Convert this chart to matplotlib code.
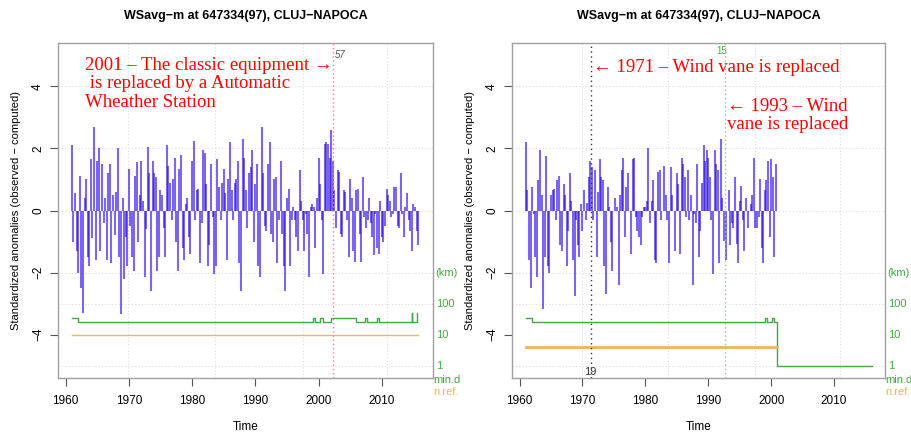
import matplotlib
matplotlib.use("Agg")
import matplotlib.pyplot as plt
import numpy as np

plt.rcParams['font.family'] = ['Liberation Sans', 'DejaVu Sans']

TITLE = "WSavg\u2212m at 647334(97), CLUJ\u2212NAPOCA"
START = 1961.0
STEP = 0.25  # four values per year

# standardized anomalies, left panel (1961-2015)
anom_left = [
    2.1, -1.0, 0.55, -1.3,    -2.0, 1.1, -2.5, -3.3,
    0.4, 1.0, -1.5, -1.8,     1.65, -0.9, 2.7, -1.6,
    1.6, 2.0, -1.3, 1.5,      -0.4, 0.4, -1.6, 1.2,
    1.5, -1.7, 0.5, -0.8,     0.6, 2.0, -1.5, -3.35,
    0.4, -2.2, -0.85, -1.8,   1.35, -0.5, -1.5, -1.95,
    1.1, 1.55, -1.0, 0.5,     1.6, 0.3, -2.15, -0.6,
    2.05, 1.2, -2.6, 1.6,     1.2, 1.07, -1.95, -1.5,
    0.65, 0.5, -0.55, -1.5,   2.1, 1.45, 0.9, -0.3,
    1.0, 1.7, -1.0, -1.95,    1.35, 1.8, -1.2, -1.6,
    0.2, 0.4, -0.85, -1.4,    1.6, 2.25, -0.3, 0.65,
    0.7, -1.7, -0.4, 1.95,    1.85, 0.85, -1.8, -1.1,
    1.5, -0.2, -2.05, -1.8,   1.65, 0.75, -0.3, 0.9,
    1.35, 0.55, -1.6, 1.0,    2.2, 0.65, -0.3, 0.9,
    1.0, 1.6, -1.7, -2.6,     2.3, 1.7, 0.65, -0.55,
    1.2, 1.4, 1.95, -1.0,     0.85, 1.5, -1.8, -2.15,
    2.7, 1.2, -0.5, -0.65,    1.5, 2.2, -0.75, -1.0,
    1.0, 1.07, -1.7, -0.3,    1.6, -0.75, -1.8, -2.6,
    0.4, 0.7, -1.8, -0.3,     0.1, -0.3, -0.85, -1.3,
    1.3, 0.3, -0.3, -1.3,     -0.1, -0.75, -2.15, 0.1,
    0.2, 0.1, -1.2, 0.4,      1.7, 0.85, -0.3, -2.05,
    2.15, 2.2, 2.15, 1.7,     2.6, 1.6, 0.65, -0.55,
    1.3, 1.25, -0.75, -0.85,  0.65, 0.6, -0.3, -1.5,
    1.0, 0.4, -1.3, -1.65,    0.65, 0.7, -0.75, -1.65,
    1.07, -0.2, -0.55, -0.3,  0.4, -0.4, -0.85, -1.45,
    -0.1, -1.2, -1.4, 0.3,    -0.85, -1.0, -0.5, 0.7,
    0.5, 0.3, -0.2, -0.1,     0.75, 0.75, -0.5, -0.55,
    1.2, -0.1, -0.85, 0.1,    0.55, -0.3, -0.65, -1.3,
    0.2, 0.1, -0.65, -1.1,
]

# standardized anomalies, right panel (1961-2000)
anom_right = [
    2.2, 0.65, -1.6, -2.5,    0.75, -0.1, -1.5, -2.15,
    0.97, 1.95, 0.5, -3.17,   -1.5, 1.75, -1.8, -2.0,
    0.5, 0.65, 0.7, -0.3,     0.97, 1.1, -1.1, -1.3,
    0.85, 0.5, -1.8, -0.65,   1.2, 0.3, -1.6, -2.75,
    -0.3, -1.1, -1.5, 0.2,    -0.65, 0.65, -0.3, 0.25,
    1.07, 1.6, 1.4, -0.3,     1.3, -1.5, 0.6, 1.65,
    1.07, 0.97, -1.8, -2.7,   0.75, 0.1, -1.0, -1.95,
    0.0, 0.4, 0.1, -2.4,      0.5, 1.3, 1.7, -0.85,
    0.75, 1.2, 0.0, -1.4,     1.65, 1.7, -0.2, -0.65,
    -0.85, -1.1, -0.2, 0.1,   0.1, 0.3, 2.0, -0.4,
    0.3, 0.97, -1.6, -1.7,    1.25, 1.3, -0.3, 0.0,
    1.45, 0.5, -0.3, -1.7,    1.4, 0.5, 0.0, -1.3,
    1.2, 0.85, -1.4, 1.7,     1.5, 1.07, -0.2, 1.3,
    -0.3, 0.5, -2.4, -0.1,    -0.4, 1.5, -1.5, -0.65,
    0.9, 2.1, 1.6, 1.95,      1.7, 1.07, -0.3, -2.05,
    1.95, 1.5, 1.3, -1.7,     2.3, 0.4, -0.97, -1.6,
    0.0, 0.65, -1.1, -0.4,    -0.55, 1.07, -1.07, -1.7,
    0.3, 0.8, -0.3, -1.3,     0.4, -0.55, 0.0, 0.2,
    0.5, 1.7, -0.55, -0.55,   -0.2, 1.0, -1.2, -1.7,
    0.65, 0.97, 1.6, -0.85,   1.65, 1.07, -1.5, 1.5,
]

# minimum distance to nearest reference (km), step series
mind_left_years = [1961.0, 1962.0, 1999.1, 1999.4, 2000.3, 2000.7, 2002.0, 2006.0,
                   2007.3, 2007.6, 2009.3, 2009.6, 2014.75, 2014.8, 2015.55, 2015.6]
mind_left_km = [35, 26, 33, 26, 33, 26, 35, 26, 33, 26, 33, 26, 50, 26, 50, 50]
mind_right_years = [1961.0, 1962.0, 1999.1, 1999.4, 2000.2, 2000.5, 2001.0, 2016.0]
mind_right_km = [35, 26, 33, 26, 33, 26, 1, 1]

# number of references
nref_left_years = [1961.0, 2015.8]
nref_left = [10, 10]
nref_right_years = [1961.0, 2001.0]
nref_right = [4, 4]

# break / grid positions
grid_years = [1969.9, 1983.6, 1997.5, 2010.9]
break_left = 2002.3
breaks_right = [1971.3, 1992.6]

BLUE = '#2a0ce0'
GREEN = '#43a843'
ORANGE = '#f2b45a'
RED = '#ff0000'
GREY = '#a0a0a0'


def to_axis(v):
    # log10 scale of the right axis sits under the anomalies: 1 -> -5
    return np.log10(np.asarray(v, dtype=float)) - 5


def draw_panel(ax, anoms, mind_t, mind_d, nref_t, nref_v, nref_lw):
    t = START + np.arange(len(anoms)) * STEP
    ax.set_xlim(1958.8, 2018.1)
    ax.set_ylim(-5.4, 5.4)

    # dotted grid
    for g in grid_years:
        ax.axvline(g, color='#dcdcdc', lw=0.8, ls=(0, (1, 2)), zorder=0)
    for gy in [4, 2, 0, -2, -3, -5]:
        ax.axhline(gy, color='#dcdcdc', lw=0.8, ls=(0, (1, 2)), zorder=0)

    ax.vlines(t, 0, anoms, color=BLUE, alpha=0.62, lw=1.5, zorder=2)
    ax.step(mind_t, to_axis(mind_d), where='post', color=GREEN, lw=1.0, zorder=3)
    ax.plot(nref_t, to_axis(nref_v), color=ORANGE, lw=nref_lw, zorder=3)

    ax.set_title(TITLE, fontsize=9, fontweight='bold', pad=17)
    ax.set_xlabel("Time", fontsize=8.5, labelpad=10)
    ax.set_ylabel("Standardized anomalies (observed \u2212 computed)", fontsize=8, labelpad=8)

    ax.set_xticks([1960, 1970, 1980, 1990, 2000, 2010])
    ax.set_yticks([-4, -2, 0, 2, 4])
    ax.set_yticklabels(['\u22124', '\u22122', '0', '2', '4'], rotation=90, va='center')
    ax.tick_params(axis='both', labelsize=8.5, length=6, color='#555555', direction='out')
    ax.tick_params(axis='x', pad=6)
    ax.tick_params(axis='y', pad=4)
    for sp in ax.spines.values():
        sp.set_color(GREY)
        sp.set_linewidth(1.0)

    # right hand scale labels
    tr = ax.get_yaxis_transform()
    kw = dict(transform=tr, fontsize=8, va='center', clip_on=False)
    ax.text(1.007, -2, "(km)", color=GREEN, **kw)
    for val in [100, 10, 1]:
        ax.text(1.007, to_axis(val), str(val), color=GREEN, **kw)
    ax.text(1.0, -5.45, "min.d", color=GREEN, **kw)
    ax.text(1.0, -5.85, "n.ref.", color=ORANGE, **kw)


fig = plt.figure(figsize=(9.12, 4.32), dpi=100)
ax1 = fig.add_axes([58 / 912, 54 / 432, 375 / 912, 335 / 432])
ax2 = fig.add_axes([512 / 912, 54 / 432, 373 / 912, 335 / 432])

draw_panel(ax1, anom_left, mind_left_years, mind_left_km, nref_left_years, nref_left, 1.0)
draw_panel(ax2, anom_right, mind_right_years, mind_right_km, nref_right_years, nref_right, 2.0)

# break markers
ax1.axvline(break_left, color='#ff8080', lw=1.0, ls=(0, (1, 2)), zorder=4)
ax1.text(break_left + 0.3, 5.0, "57", color='#555555', fontsize=7, style='italic', ha='left', va='center')
ax2.axvline(breaks_right[0], color='#333333', lw=1.0, ls=(0, (1, 2.5)), zorder=4)
ax2.text(breaks_right[0], -5.2, "19", color='#333333', fontsize=8, ha='center', va='center')
ax2.axvline(breaks_right[1], color='#8fc88f', lw=1.0, ls=(0, (1, 2)), zorder=4)
ax2.text(breaks_right[1] - 0.4, 5.15, "15", color=GREEN, fontsize=7, ha='center', va='center')

# red annotations
serif = ['Liberation Serif', 'DejaVu Serif']
ax1.text(0.073, 0.878, "2001 \u2013 The classic equipment \u2192\n is replaced by a Automatic\nWheather Station",
         transform=ax1.transAxes, color=RED, fontsize=13.5, family=serif, va='center',
         linespacing=1.12)
ax2.text(0.216, 0.928, "\u2190 1971 \u2013 Wind vane is replaced", transform=ax2.transAxes,
         color=RED, fontsize=13.5, family=serif, va='center')
ax2.text(0.577, 0.784, "\u2190 1993 \u2013 Wind\nvane is replaced", transform=ax2.transAxes,
         color=RED, fontsize=13.5, family=serif, va='center', linespacing=1.12)

plt.savefig("out.png", dpi=100)
plt.close()
